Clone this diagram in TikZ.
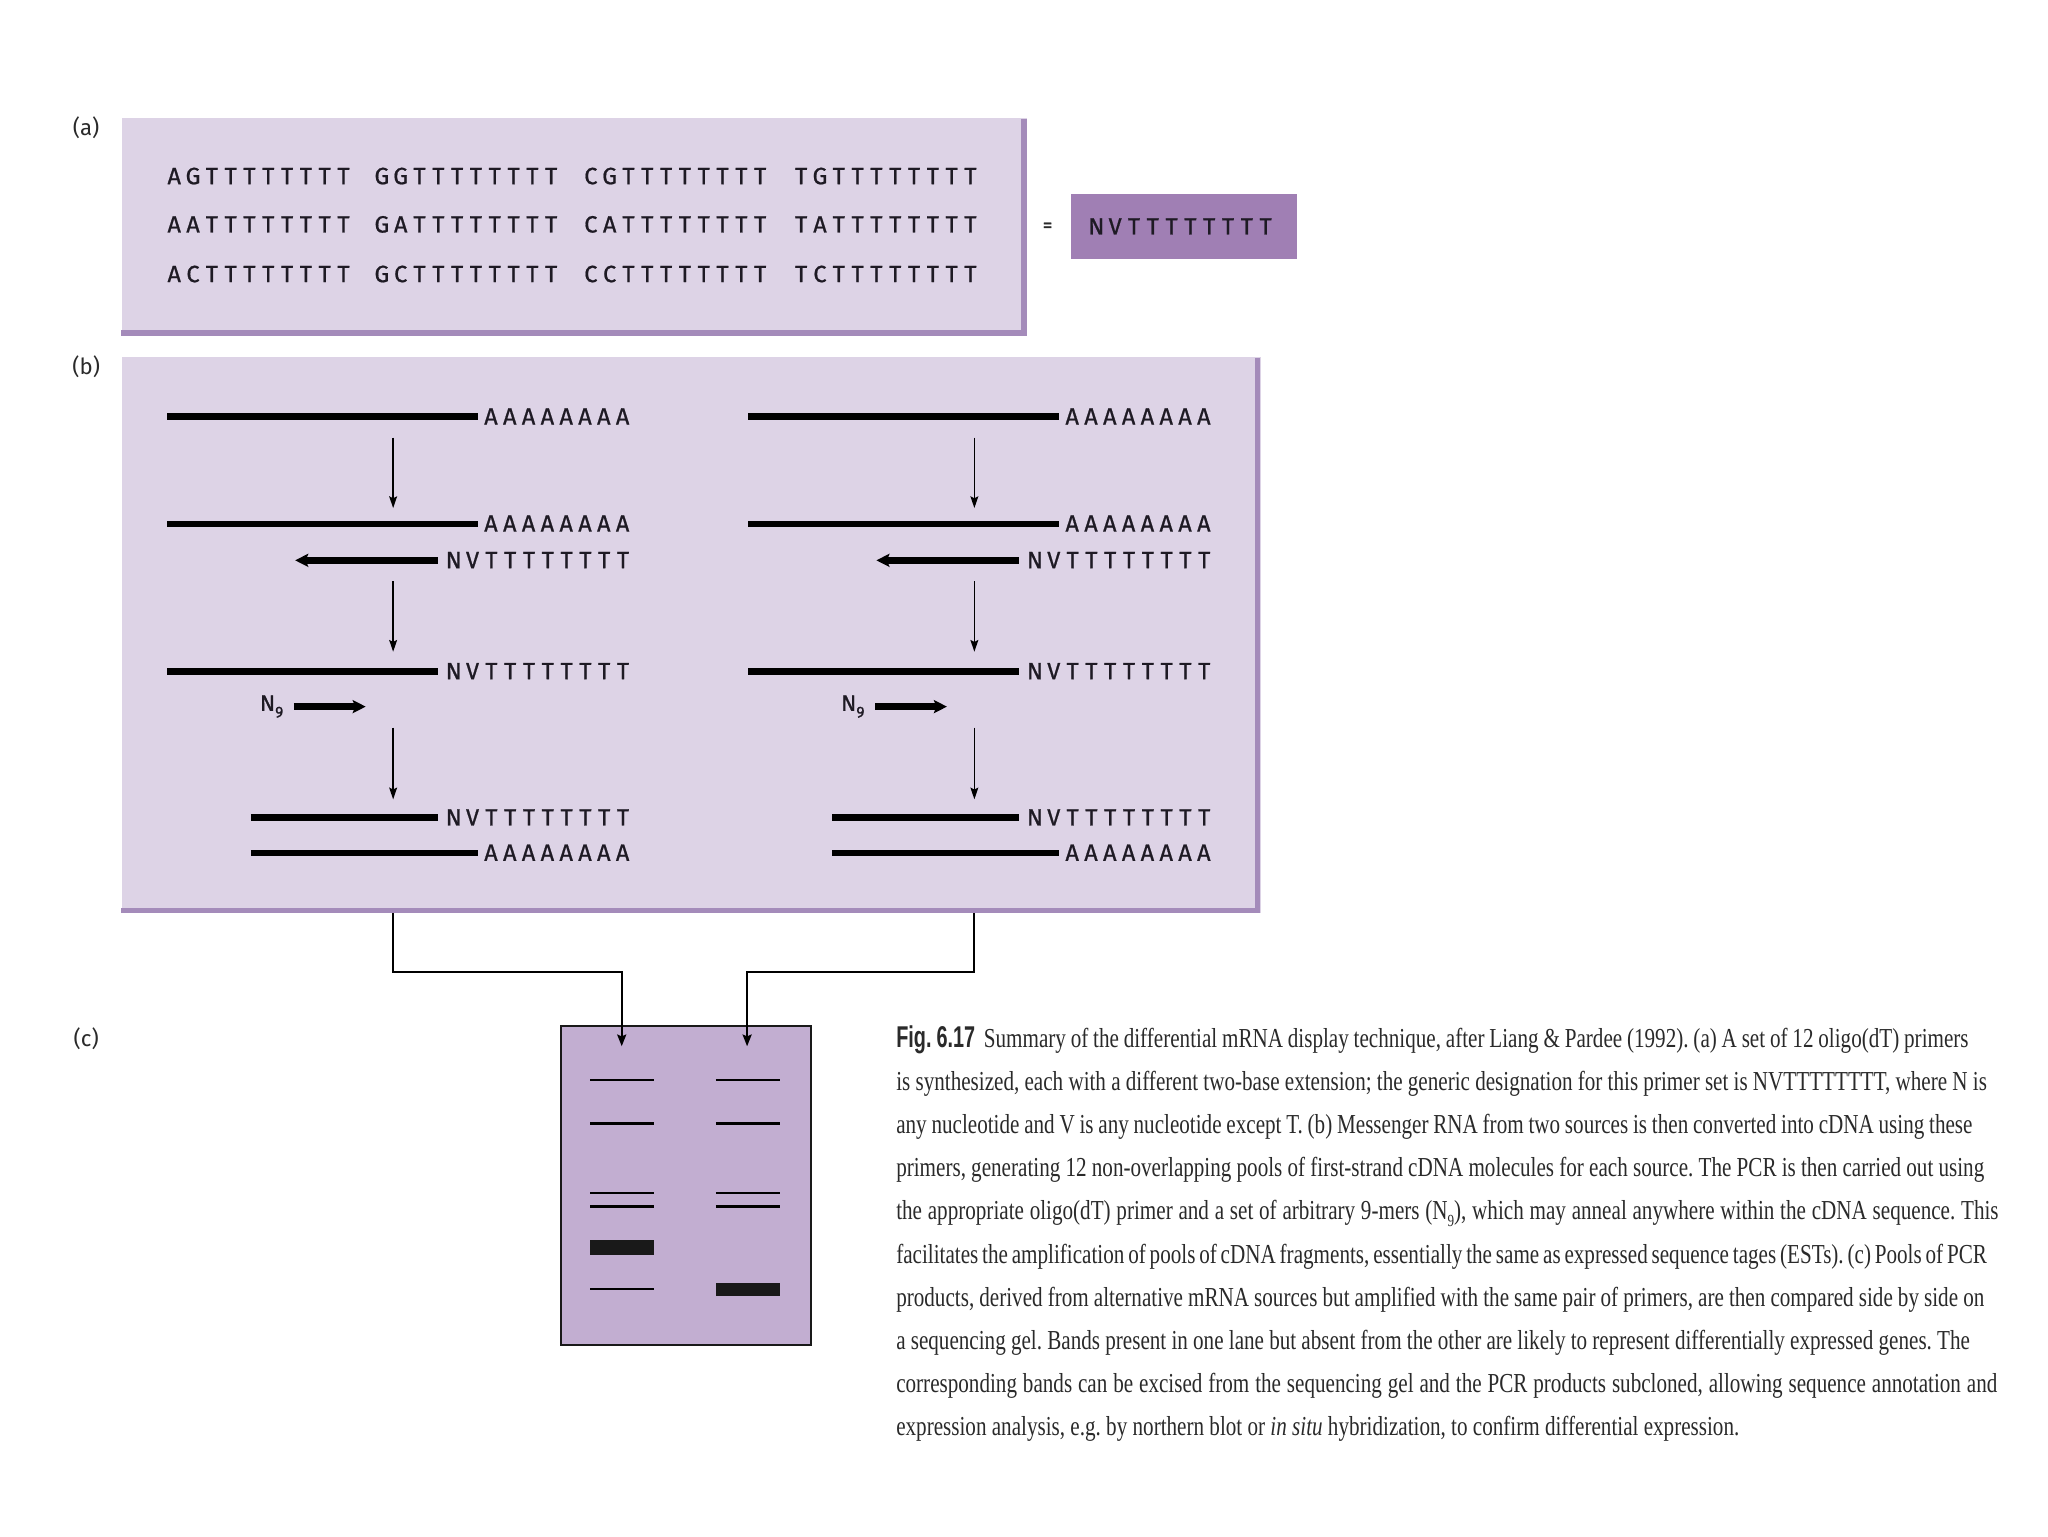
\documentclass[tikz,border=0pt]{standalone}
\usepackage{fontspec}
\setmainfont{Liberation Serif}
\newfontfamily\seqfont[FakeBold=0.8]{Fira Sans}
\newfontfamily\capfont[FakeStretch=0.77]{Liberation Serif}
\newfontfamily\figfont[FakeStretch=0.66]{Liberation Sans}
\newfontfamily\labfont{Fira Sans}
\usetikzlibrary{arrows.meta}
\definecolor{boxfill}{RGB}{221,211,230}
\definecolor{boxedge}{RGB}{164,139,186}
\definecolor{nvfill}{RGB}{160,127,180}
\definecolor{gelfill}{RGB}{194,174,209}
\definecolor{seqcol}{RGB}{30,26,36}
\definecolor{capcol}{RGB}{42,42,42}
\makeatletter
\def\lsp#1{\lsp@#1\relax}
\def\lsp@#1{\ifx#1\relax\else\makebox[14.4pt]{#1}\expandafter\lsp@\fi}
\makeatother
\newcommand{\capsub}[1]{\raisebox{-0.25em}{\fontsize{13}{13}\selectfont #1}}
\frenchspacing
\begin{document}
\begin{tikzpicture}[x=1pt,y=-1pt,
  strand/.style={line width=5pt},
  thinarrow/.style={line width=1.3pt,-{Stealth[length=9pt,width=6pt,inset=1.5pt]}},
  fatarrow/.style={line width=5pt,-{Stealth[length=10pt,width=10pt,inset=2pt]}},
  gelarrow/.style={line width=1.4pt,-{Stealth[length=9pt,width=7pt,inset=1.5pt]}},
  seqtxt/.style={inner sep=0pt,anchor=base west,text=seqcol,font=\seqfont\fontsize{18}{18}\selectfont},
  captxt/.style={inner sep=0pt,anchor=base west,text=capcol,font=\capfont\fontsize{21}{21}\selectfont},
  plabel/.style={inner sep=0pt,text=capcol,font=\labfont\fontsize{17}{17}\selectfont},
  band/.style={line width=2pt},
  thickband/.style={fill=black!90}]
\useasboundingbox (0,0) rectangle (1568,1176);
\fill[white] (0,0) rectangle (1568,1176);

% ---------- panel labels
\node[plabel] (la) at (66,98) {(a)};
\node[plabel] (lb) at (66,281) {(b)};
\node[plabel] (lc) at (66,795) {(c)};

% ---------- panel (a)
\node[fill=boxfill,minimum width=693pt,minimum height=167pt,anchor=north west,inner sep=0pt] (boxa) at (93,90) {};
\draw[boxedge,line width=4pt] (784,91) -- (784,255) -- (93,255);
\foreach \row/\yy/\w in {1/141/G,2/178/A,3/216/C}{
  \node[seqtxt] (a\row1) at (126,\yy) {\lsp{A\w TTTTTTTT}};
  \node[seqtxt] (a\row2) at (285,\yy) {\lsp{G\w TTTTTTTT}};
  \node[seqtxt] (a\row3) at (445,\yy) {\lsp{C\w TTTTTTTT}};
  \node[seqtxt] (a\row4) at (606,\yy) {\lsp{T\w TTTTTTTT}};
}
\node[inner sep=0pt,text=capcol,font=\seqfont\fontsize{15}{15}\selectfont] (eq) at (802,174) {=};
\node[fill=nvfill,minimum width=173pt,minimum height=50pt,anchor=north west,inner sep=0pt] (nvbox) at (820,148) {};
\node[seqtxt] (nvtxt) at (832,179.5) {\lsp{NVTTTTTTTT}};

% ---------- panel (b)
\node[fill=boxfill,minimum width=872pt,minimum height=426pt,anchor=north west,inner sep=0pt] (boxb) at (93,273) {};
\draw[boxedge,line width=4pt] (963,274) -- (963,697) -- (93,697);

\foreach \dx/\k in {0/L,445/R}{
  \draw[strand] (128+\dx,319) -- (366+\dx,319);
  \node[seqtxt] (b1\k) at (368.5+\dx,325) {\lsp{AAAAAAAA}};
  \draw[thinarrow] (301+\dx,335) -- (301+\dx,389);
  \draw[strand] (128+\dx,401) -- (366+\dx,401);
  \node[seqtxt] (b2\k) at (368.5+\dx,407) {\lsp{AAAAAAAA}};
  \draw[fatarrow] (335+\dx,429) -- (226+\dx,429);
  \node[seqtxt] (b3\k) at (340+\dx,435) {\lsp{NVTTTTTTTT}};
  \draw[thinarrow] (301+\dx,445) -- (301+\dx,499);
  \draw[strand] (128+\dx,514) -- (335+\dx,514);
  \node[seqtxt] (b4\k) at (340+\dx,520) {\lsp{NVTTTTTTTT}};
  \node[inner sep=0pt,text=seqcol,font=\seqfont\fontsize{17}{17}\selectfont] (n9\k) at (208+\dx,541) {N\raisebox{-0.3em}{\fontsize{12}{12}\selectfont 9}};
  \draw[fatarrow] (225+\dx,541) -- (280+\dx,541);
  \draw[thinarrow] (301+\dx,557) -- (301+\dx,612);
  \draw[strand] (192+\dx,626) -- (335+\dx,626);
  \node[seqtxt] (b5\k) at (340+\dx,632) {\lsp{NVTTTTTTTT}};
  \draw[strand] (192+\dx,653) -- (366+\dx,653);
  \node[seqtxt] (b6\k) at (368.5+\dx,659) {\lsp{AAAAAAAA}};
}

% ---------- panel (c): gel
\node[draw=black!90,line width=1.5pt,fill=gelfill,minimum width=191pt,minimum height=244pt,anchor=north west,inner sep=0pt] (gel) at (429,785) {};
\coordinate (srcL) at (301,699);
\coordinate (srcR) at (746,699);
\coordinate (laneL) at (476,801);
\coordinate (laneR) at (572,801);
\draw[gelarrow] (srcL) -- (301,744) -| (laneL);
\draw[gelarrow] (srcR) -- (746,744) -| (laneR);
% bands
\foreach \yy in {827,860,913.5,923.5,987}{
  \draw[band] (452,\yy) -- (501,\yy);
}
\fill[thickband] (452,949.5) rectangle (501,961);
\foreach \yy in {827,860,913.5,923.5}{
  \draw[band] (548,\yy) -- (597,\yy);
}
\fill[thickband] (548,982) rectangle (597,992);

% ---------- caption
\node[captxt] (cap1) at (686,802) {\makebox[821pt][s]{{\figfont\bfseries\fontsize{23}{23}\selectfont Fig.\,6.17}\hspace{3pt} Summary of the differential mRNA display technique, after Liang \& Pardee (1992). (a) A set of 12 oligo(dT) primers}};
\node[captxt] (cap2) at (686,835) {\makebox[835pt][s]{is synthesized, each with a different two-base extension; the generic designation for this primer set is NVTTTTTTTT, where N is}};
\node[captxt] (cap3) at (686,868) {\makebox[824pt][s]{any nucleotide and V is any nucleotide except T. (b) Messenger RNA from two sources is then converted into cDNA using these}};
\node[captxt] (cap4) at (686,901) {\makebox[833pt][s]{primers, generating 12 non-overlapping pools of first-strand cDNA molecules for each source. The PCR is then carried out using}};
\node[captxt] (cap5) at (686,934) {\makebox[844pt][s]{the appropriate oligo(dT) primer and a set of arbitrary 9-mers (N\capsub{9}), which may anneal anywhere within the cDNA sequence. This}};
\node[captxt] (cap6) at (686,967) {\makebox[835pt][s]{facilitates the amplification of pools of cDNA fragments, essentially the same as expressed sequence tages (ESTs). (c) Pools of PCR}};
\node[captxt] (cap7) at (686,1000) {\makebox[833pt][s]{products, derived from alternative mRNA sources but amplified with the same pair of primers, are then compared side by side on}};
\node[captxt] (cap8) at (686,1033) {\makebox[822pt][s]{a sequencing gel. Bands present in one lane but absent from the other are likely to represent differentially expressed genes. The}};
\node[captxt] (cap9) at (686,1066) {\makebox[843pt][s]{corresponding bands can be excised from the sequencing gel and the PCR products subcloned, allowing sequence annotation and}};
\node[captxt] (cap10) at (686,1099) {expression analysis, e.g. by northern blot or \textit{in situ} hybridization, to confirm differential expression.};
\end{tikzpicture}
\end{document}
